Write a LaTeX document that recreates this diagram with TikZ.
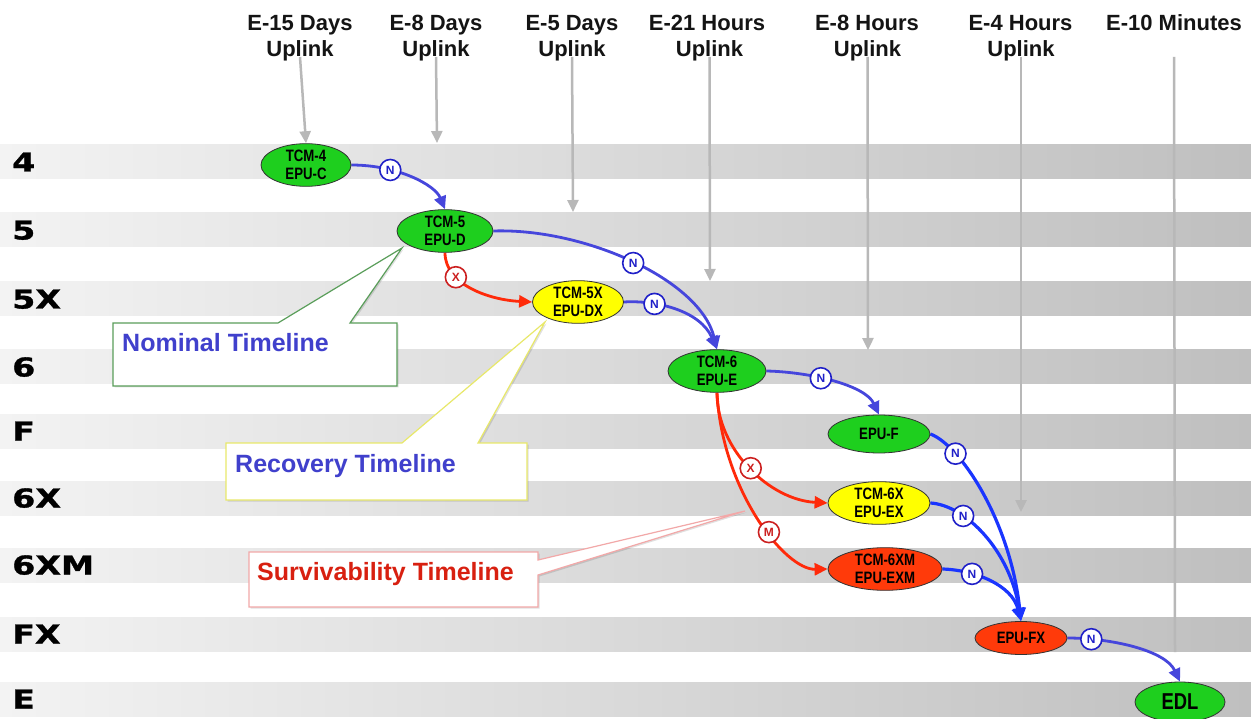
\documentclass[tikz,border=0pt]{standalone}
\usepackage{fontspec}
\setmainfont{Liberation Sans}
\newfontfamily\narrowfont{Liberation Sans}[FakeStretch=0.8]
\newfontfamily\heavyfont{DejaVu Sans}[FakeStretch=1.28,FakeBold=1.2]
\usetikzlibrary{arrows.meta,shapes.geometric}
\definecolor{bandL}{HTML}{F3F3F3}
\definecolor{bandR}{HTML}{BFBFBF}
\definecolor{nblue}{HTML}{4646DC}
\definecolor{bblue}{HTML}{1A35FF}
\definecolor{ered}{HTML}{FF2A0A}
\definecolor{lred}{HTML}{CC2020}
\definecolor{cblue}{HTML}{2020C8}
\definecolor{gfill}{HTML}{1ECF1E}
\definecolor{yfill}{HTML}{FFFF00}
\definecolor{rfill}{HTML}{FF3A0A}
\definecolor{upgray}{HTML}{B8B8B8}
\definecolor{txtblue}{HTML}{4040CC}
\definecolor{txtred}{HTML}{D82010}
\definecolor{callG}{HTML}{5A9E5A}
\definecolor{callY}{HTML}{E8E86A}
\definecolor{callR}{HTML}{F2A8A8}
\pgfdeclarelayer{bg}\pgfdeclarelayer{mid}\pgfsetlayers{bg,mid,main}
\begin{document}
\begin{tikzpicture}[x=1pt,y=-1pt,
 hdr/.style={font=\bfseries\fontsize{22}{26}\selectfont, text=black!92, inner sep=0pt, anchor=base},
 rowlab/.style={font=\heavyfont\bfseries\fontsize{26}{30}\selectfont, text=black, anchor=base west, inner sep=0pt},
 ell/.style={ellipse, draw=black!80, line width=0.8pt, inner sep=0pt, align=center,
   font=\narrowfont\bfseries\fontsize{16.5}{18.5}\selectfont},
 gell/.style={ell, fill=gfill},
 yell/.style={ell, fill=yfill},
 rell/.style={ell, fill=rfill},
 lab/.style={circle, fill=white, line width=1.6pt, minimum size=21pt, inner sep=0pt, arrows=-,
   font=\bfseries\fontsize{12}{12}\selectfont},
 nlab/.style={lab, draw=cblue, text=cblue},
 xlab/.style={lab, draw=lred, text=lred},
 nom/.style={draw=nblue, line width=2.8pt, -{Triangle[length=13pt,width=12pt]}},
 fxe/.style={draw=bblue, line width=3.2pt, -{Triangle[length=13pt,width=12pt]}},
 rede/.style={draw=ered, line width=2.8pt, -{Triangle[length=13pt,width=12pt]}},
 up/.style={draw=upgray, line width=2.5pt, -{Triangle[length=12pt,width=11pt]}},
 upplain/.style={draw=upgray, line width=2.5pt},
 band/.style={left color=bandL, right color=bandR, draw=none},
 callout/.style={fill=white, line width=1.2pt, preaction={fill=black, opacity=0.12, transform canvas={xshift=1.5pt,yshift=-1.5pt}}},
 ctext/.style={font=\bfseries\fontsize{25}{28}\selectfont, anchor=base west, inner sep=0pt}
]
\useasboundingbox (0,0) rectangle (1251,719);

% bands
\begin{pgfonlayer}{bg}
\fill[white] (0,0) rectangle (1251,719);
\foreach \t in {145,213,282,350,414,481,548,617,682}
  \shade[band] (0,\t) rectangle (1251,\t+34);
\end{pgfonlayer}

% row labels
\node[rowlab] (r4)   at (12,171.5) {4};
\node[rowlab] (r5)   at (12,239.5) {5};
\node[rowlab] (r5X)  at (12,308.5) {5X};
\node[rowlab] (r6)   at (12,376.5) {6};
\node[rowlab] (rF)   at (12,440.5) {F};
\node[rowlab] (r6X)  at (12,507.5) {6X};
\node[rowlab] (r6XM) at (12,574.5) {6XM};
\node[rowlab] (rFX)  at (12,643.5) {FX};
\node[rowlab] (rE)   at (12,708.5) {E};

% headers
\node[hdr] (h1a) at (300,31) {E-15 Days};
\node[hdr] (h1b) at (300,57) {Uplink};
\node[hdr] (h2a) at (436,31) {E-8 Days};
\node[hdr] (h2b) at (436,57) {Uplink};
\node[hdr] (h3a) at (572,31) {E-5 Days};
\node[hdr] (h3b) at (572,57) {Uplink};
\node[hdr] (h4a) at (707,31) {E-21 Hours};
\node[hdr] (h4b) at (709.5,57) {Uplink};
\node[hdr] (h5a) at (867,31) {E-8 Hours};
\node[hdr] (h5b) at (867.5,57) {Uplink};
\node[hdr] (h6a) at (1020.5,31) {E-4 Hours};
\node[hdr] (h6b) at (1021,57) {Uplink};
\node[hdr] (h7a) at (1174,31) {E-10 Minutes};

% ellipses
\node[gell, minimum width=90pt, minimum height=41pt] (n4) at (306,165) {TCM-4\\EPU-C};
\node[gell, minimum width=96pt, minimum height=37pt] (n5) at (445,231) {TCM-5\\EPU-D};
\node[yell, minimum width=91pt, minimum height=41pt] (n5x) at (578,302) {TCM-5X\\EPU-DX};
\node[gell, minimum width=98pt, minimum height=42pt] (n6) at (717,371) {TCM-6\\EPU-E};
\node[gell, minimum width=102pt, minimum height=38pt] (nF) at (879,434) {EPU-F};
\node[yell, minimum width=102pt, minimum height=40pt] (n6x) at (879,503) {TCM-6X\\EPU-EX};
\node[rell, minimum width=114pt, minimum height=42pt] (n6xm) at (885,569) {TCM-6XM\\EPU-EXM};
\node[rell, minimum width=92pt, minimum height=33pt] (nFX) at (1021,638) {EPU-FX};
\node[gell, minimum width=90pt, minimum height=40pt, font=\narrowfont\bfseries\fontsize{23}{26}\selectfont] (nEDL) at (1180,702) {EDL};

% uplink arrow ends
\coordinate (a2) at (437,143);
\coordinate (a3) at (573,212);
\coordinate (a4) at (710,281);
\coordinate (a5) at (868,350);
\coordinate (a6) at (1021,512);
\coordinate (a7) at (1175,652);

\begin{pgfonlayer}{mid}
% uplink arrows
\draw[up] (h1b.base) -- (n4.north);
\draw[up] (h2b.base) -- (a2);
\draw[up] (h3b.base) -- (a3);
\draw[up] (h4b.base) -- (a4);
\draw[up] (h5b.base) -- (a5);
\draw[up] (h6b.base) -- (a6);
\draw[upplain] ([yshift=-26pt]h7a.base) -- (a7);

% callouts
\draw[callout, draw=callG] (113,323) -- (278,323) -- (402,248) -- (350,323) -- (397,323) -- (397,386) -- (113,386) -- cycle;
\node[ctext, text=txtblue] (tnom) at (122,352) {Nominal Timeline};
\draw[callout, draw=callY] (226,443) -- (402,443) -- (545,322) -- (478,443) -- (527,443) -- (527,500) -- (226,500) -- cycle;
\node[ctext, text=txtblue] (trec) at (235,472) {Recovery Timeline};
\draw[callout, draw=callR] (249,552) -- (538,552) -- (538,560) -- (745,511) -- (538,575) -- (538,607) -- (249,607) -- cycle;
\node[ctext, text=txtred] (tsur) at (257,580) {Survivability Timeline};

% edges
\draw[nom] (n4.east) .. controls (398,165) and (435,185) .. (n5.north) node[nlab,pos=0.3] (c1) {N};
\draw[nom] (n5.east) .. controls (585,228) and (700,280) .. (n6.north) node[nlab,pos=0.5] (c2) {N};
\draw[nom] (n5x.east) .. controls (655,300) and (700,310) .. (n6.north) node[nlab,pos=0.3] (c3) {N};
\draw[rede] (n5.south) .. controls (445,285) and (490,300) .. (n5x.west) node[xlab,pos=0.3] (c4) {X};
\draw[nom] (n6.east) .. controls (810,372) and (865,385) .. (nF.north) node[nlab,pos=0.4] (c5) {N};
\draw[rede] (n6.south) .. controls (717,450) and (770,500) .. (n6x.west) node[xlab,pos=0.5] (c6) {X};
\draw[rede] (n6.south) .. controls (722,490) and (785,570) .. (n6xm.west) node[xlab,pos=0.58] (c7) {M};
\draw[fxe] (nF.east) .. controls (960,445) and (1010,520) .. (nFX.north) node[nlab,pos=0.25] (c8) {N};
\draw[fxe] (n6x.east) .. controls (965,505) and (1010,550) .. (nFX.north) node[nlab,pos=0.3] (c9) {N};
\draw[fxe] (n6xm.east) .. controls (975,570) and (1012,585) .. (nFX.north) node[nlab,pos=0.3] (c10) {N};
\draw[nom] (nFX.east) .. controls (1110,638) and (1165,650) .. (nEDL.north) node[nlab,pos=0.18] (c11) {N};
\end{pgfonlayer}
\end{tikzpicture}
\end{document}
